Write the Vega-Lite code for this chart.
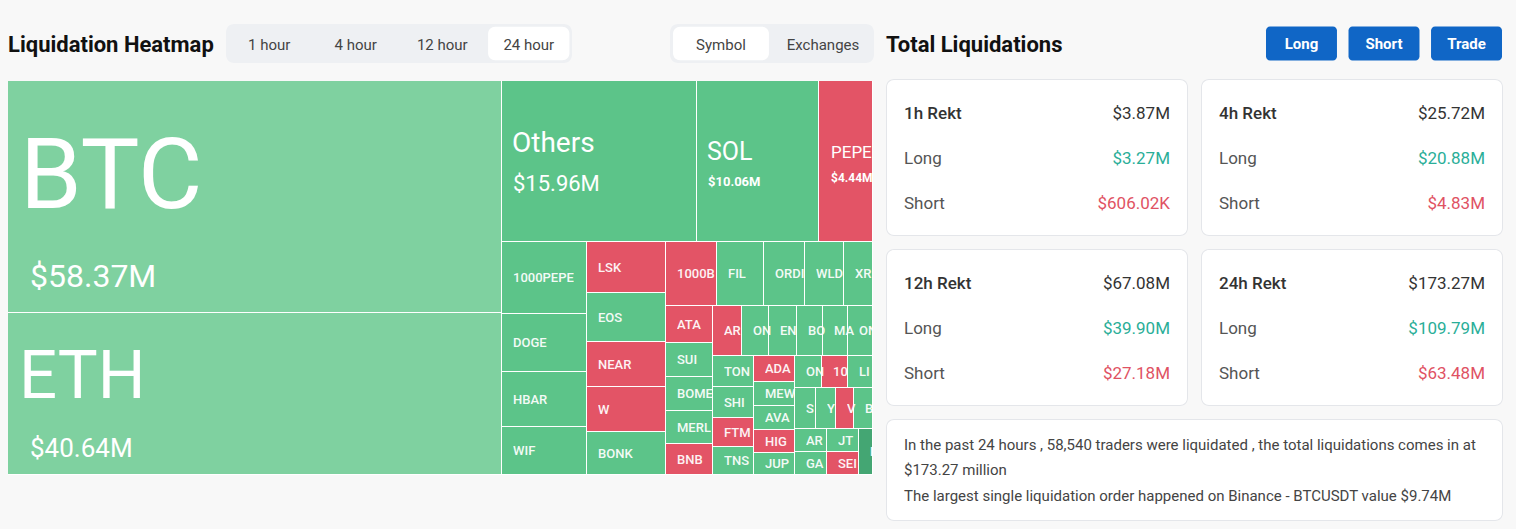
{
  "$schema": "https://vega.github.io/schema/vega-lite/v6.json",
  "background": "#f8f8f8",
  "padding": {"left": 8, "top": 24, "right": 13, "bottom": 8},
  "config": {"view": {"stroke": null}, "font": "Roboto", "text": {"font": "Roboto"}},
  "resolve": {"scale": {"color": "independent"}},
  "datasets": {
    "cards": [
      {"period": "1h", "metric": "Rekt", "label": "1h Rekt", "amount": "$3.87M"},
      {"period": "1h", "metric": "Long", "label": "Long", "amount": "$3.27M"},
      {"period": "1h", "metric": "Short", "label": "Short", "amount": "$606.02K"},
      {"period": "4h", "metric": "Rekt", "label": "4h Rekt", "amount": "$25.72M"},
      {"period": "4h", "metric": "Long", "label": "Long", "amount": "$20.88M"},
      {"period": "4h", "metric": "Short", "label": "Short", "amount": "$4.83M"},
      {"period": "12h", "metric": "Rekt", "label": "12h Rekt", "amount": "$67.08M"},
      {"period": "12h", "metric": "Long", "label": "Long", "amount": "$39.90M"},
      {"period": "12h", "metric": "Short", "label": "Short", "amount": "$27.18M"},
      {"period": "24h", "metric": "Rekt", "label": "24h Rekt", "amount": "$173.27M"},
      {"period": "24h", "metric": "Long", "label": "Long", "amount": "$109.79M"},
      {"period": "24h", "metric": "Short", "label": "Short", "amount": "$63.48M"}
    ]
  },
  "spacing": 12,
  "hconcat": [
    {
      "spacing": 18,
      "vconcat": [
        {
          "spacing": 98,
          "hconcat": [
            {
              "bounds": "flush",
              "spacing": 12,
              "hconcat": [
                {
                  "width": 206, "height": 39,
                  "view": {"fill": "#f8f8f8"},
                  "data": {"values": [{"title": "Liquidation Heatmap"}]},
                  "mark": {"type": "text", "fontSize": 22, "fontWeight": "bold", "color": "#111111", "align": "left", "baseline": "middle", "dy": 1.5},
                  "encoding": {
                    "x": {"datum": 0, "type": "quantitative", "axis": null, "scale": {"domain": [0, 1], "nice": false}},
                    "text": {"field": "title"}
                  }
                },
                {
                  "width": 346, "height": 39,
                  "view": {"fill": "#eef0f3", "cornerRadius": 8},
                  "data": {"values": [
                    {"range": "1 hour", "selected": false},
                    {"range": "4 hour", "selected": false},
                    {"range": "12 hour", "selected": false},
                    {"range": "24 hour", "selected": true}
                  ]},
                  "encoding": {"x": {"field": "range", "type": "nominal", "axis": null, "scale": {"type": "band", "domain": ["1 hour", "4 hour", "12 hour", "24 hour"], "paddingInner": 0.06, "paddingOuter": 0.03}}},
                  "layer": [
                    {
                      "transform": [{"filter": "datum.selected"}],
                      "mark": {"type": "rect", "fill": "#ffffff", "cornerRadius": 7},
                      "encoding": {"y": {"datum": "tabs", "type": "nominal", "axis": null, "scale": {"type": "band", "paddingInner": 0, "paddingOuter": 0.08}}}
                    },
                    {"mark": {"type": "text", "fontSize": 15, "color": "#444444", "baseline": "middle", "dy": 1}, "encoding": {"text": {"field": "range"}}}
                  ]
                }
              ]
            },
            {
              "width": 204, "height": 39,
              "view": {"fill": "#eef0f3", "cornerRadius": 8},
              "data": {"values": [
                {"group": "Symbol", "selected": true},
                {"group": "Exchanges", "selected": false}
              ]},
              "encoding": {"x": {"field": "group", "type": "nominal", "axis": null, "scale": {"type": "band", "domain": ["Symbol", "Exchanges"], "paddingInner": 0.06, "paddingOuter": 0.03}}},
              "layer": [
                {
                  "transform": [{"filter": "datum.selected"}],
                  "mark": {"type": "rect", "fill": "#ffffff", "cornerRadius": 7},
                  "encoding": {"y": {"datum": "tabs", "type": "nominal", "axis": null, "scale": {"type": "band", "paddingInner": 0, "paddingOuter": 0.08}}}
                },
                {"mark": {"type": "text", "fontSize": 15, "color": "#444444", "baseline": "middle", "dy": 1}, "encoding": {"text": {"field": "group"}}}
              ]
            }
          ]
        },
        {
          "width": 865, "height": 394,
          "view": {"fill": "#ffffff"},
          "data": {"values": [
            {"label": "BTC", "usd": 58370000, "bias": "mild long", "tier": "big", "x0": 0, "x1": 494, "y0": 0, "y1": 232},
            {"label": "ETH", "usd": 40640000, "bias": "mild long", "tier": "big", "x0": 0, "x1": 494, "y0": 232, "y1": 394},
            {"label": "Others", "usd": 15960000, "bias": "long", "tier": "big", "x0": 494, "x1": 689, "y0": 0, "y1": 161},
            {"label": "SOL", "usd": 10060000, "bias": "long", "tier": "big", "x0": 689, "x1": 811, "y0": 0, "y1": 161},
            {"label": "PEPE", "usd": 4440000, "bias": "short", "tier": "big", "x0": 811, "x1": 865, "y0": 0, "y1": 161},
            {"label": "1000PEPE", "usd": 3110000, "bias": "long", "tier": "small", "x0": 494, "x1": 579, "y0": 161, "y1": 233},
            {"label": "DOGE", "usd": 2510000, "bias": "long", "tier": "small", "x0": 494, "x1": 579, "y0": 233, "y1": 291},
            {"label": "HBAR", "usd": 2380000, "bias": "long", "tier": "small", "x0": 494, "x1": 579, "y0": 291, "y1": 346},
            {"label": "WIF", "usd": 2070000, "bias": "long", "tier": "small", "x0": 494, "x1": 579, "y0": 346, "y1": 394},
            {"label": "LSK", "usd": 2050000, "bias": "short", "tier": "small", "x0": 579, "x1": 658, "y0": 161, "y1": 212},
            {"label": "EOS", "usd": 1970000, "bias": "long", "tier": "small", "x0": 579, "x1": 658, "y0": 212, "y1": 261},
            {"label": "NEAR", "usd": 1810000, "bias": "short", "tier": "small", "x0": 579, "x1": 658, "y0": 261, "y1": 306},
            {"label": "W", "usd": 1810000, "bias": "short", "tier": "small", "x0": 579, "x1": 658, "y0": 306, "y1": 351},
            {"label": "BONK", "usd": 1730000, "bias": "long", "tier": "small", "x0": 579, "x1": 658, "y0": 351, "y1": 394},
            {"label": "1000B", "usd": 1660000, "bias": "short", "tier": "small", "x0": 658, "x1": 709, "y0": 161, "y1": 225},
            {"label": "FIL", "usd": 1530000, "bias": "long", "tier": "small", "x0": 709, "x1": 756, "y0": 161, "y1": 225},
            {"label": "ORDI", "usd": 1330000, "bias": "long", "tier": "small", "x0": 756, "x1": 797, "y0": 161, "y1": 225},
            {"label": "WLD", "usd": 1270000, "bias": "long", "tier": "small", "x0": 797, "x1": 836, "y0": 161, "y1": 225},
            {"label": "XR", "usd": 940000, "bias": "long", "tier": "small", "x0": 836, "x1": 865, "y0": 161, "y1": 225},
            {"label": "ATA", "usd": 880000, "bias": "short", "tier": "small", "x0": 658, "x1": 705, "y0": 225, "y1": 262},
            {"label": "SUI", "usd": 810000, "bias": "long", "tier": "small", "x0": 658, "x1": 705, "y0": 262, "y1": 296},
            {"label": "BOME", "usd": 810000, "bias": "long", "tier": "small", "x0": 658, "x1": 705, "y0": 296, "y1": 330},
            {"label": "MERL", "usd": 790000, "bias": "long", "tier": "small", "x0": 658, "x1": 705, "y0": 330, "y1": 363},
            {"label": "BNB", "usd": 740000, "bias": "short", "tier": "small", "x0": 658, "x1": 705, "y0": 363, "y1": 394},
            {"label": "AR", "usd": 740000, "bias": "short", "tier": "small", "x0": 705, "x1": 734, "y0": 225, "y1": 275},
            {"label": "ON", "usd": 690000, "bias": "long", "tier": "small", "x0": 734, "x1": 761, "y0": 225, "y1": 275},
            {"label": "EN", "usd": 710000, "bias": "long", "tier": "small", "x0": 761, "x1": 789, "y0": 225, "y1": 275},
            {"label": "BO", "usd": 660000, "bias": "long", "tier": "small", "x0": 789, "x1": 815, "y0": 225, "y1": 275},
            {"label": "MA", "usd": 640000, "bias": "long", "tier": "small", "x0": 815, "x1": 840, "y0": 225, "y1": 275},
            {"label": "ON", "usd": 640000, "bias": "long", "tier": "small", "x0": 840, "x1": 865, "y0": 225, "y1": 275},
            {"label": "TON", "usd": 650000, "bias": "long", "tier": "small", "x0": 705, "x1": 746, "y0": 275, "y1": 306},
            {"label": "SHI", "usd": 650000, "bias": "long", "tier": "small", "x0": 705, "x1": 746, "y0": 306, "y1": 337},
            {"label": "FTM", "usd": 600000, "bias": "short", "tier": "small", "x0": 705, "x1": 746, "y0": 337, "y1": 366},
            {"label": "TNS", "usd": 580000, "bias": "long", "tier": "small", "x0": 705, "x1": 746, "y0": 366, "y1": 394},
            {"label": "ADA", "usd": 540000, "bias": "short", "tier": "small", "x0": 746, "x1": 787, "y0": 275, "y1": 301},
            {"label": "MEW", "usd": 500000, "bias": "long", "tier": "small", "x0": 746, "x1": 787, "y0": 301, "y1": 325},
            {"label": "AVA", "usd": 500000, "bias": "long", "tier": "small", "x0": 746, "x1": 787, "y0": 325, "y1": 349},
            {"label": "HIG", "usd": 480000, "bias": "short", "tier": "small", "x0": 746, "x1": 787, "y0": 349, "y1": 372},
            {"label": "JUP", "usd": 460000, "bias": "long", "tier": "small", "x0": 746, "x1": 787, "y0": 372, "y1": 394},
            {"label": "ON", "usd": 440000, "bias": "long", "tier": "small", "x0": 787, "x1": 814, "y0": 275, "y1": 307},
            {"label": "10", "usd": 420000, "bias": "short", "tier": "small", "x0": 814, "x1": 840, "y0": 275, "y1": 307},
            {"label": "LI", "usd": 410000, "bias": "long", "tier": "small", "x0": 840, "x1": 865, "y0": 275, "y1": 307},
            {"label": "S", "usd": 440000, "bias": "long", "tier": "small", "x0": 787, "x1": 808, "y0": 307, "y1": 348},
            {"label": "Y", "usd": 420000, "bias": "long", "tier": "small", "x0": 808, "x1": 828, "y0": 307, "y1": 348},
            {"label": "V", "usd": 380000, "bias": "short", "tier": "small", "x0": 828, "x1": 846, "y0": 307, "y1": 348},
            {"label": "B", "usd": 400000, "bias": "long", "tier": "small", "x0": 846, "x1": 865, "y0": 307, "y1": 348},
            {"label": "AR", "usd": 370000, "bias": "long", "tier": "small", "x0": 787, "x1": 819, "y0": 348, "y1": 371},
            {"label": "GA", "usd": 370000, "bias": "long", "tier": "small", "x0": 787, "x1": 819, "y0": 371, "y1": 394},
            {"label": "JT", "usd": 370000, "bias": "long", "tier": "small", "x0": 819, "x1": 851, "y0": 348, "y1": 371},
            {"label": "SEI", "usd": 370000, "bias": "short", "tier": "small", "x0": 819, "x1": 851, "y0": 371, "y1": 394},
            {"label": "E", "usd": 330000, "bias": "strong long", "tier": "small", "x0": 851, "x1": 865, "y0": 348, "y1": 394}
          ]},
          "encoding": {
            "x": {"field": "x0", "type": "quantitative", "axis": null, "scale": {"domain": [0, 865], "nice": false, "zero": false}},
            "y": {"field": "y0", "type": "quantitative", "axis": null, "scale": {"domain": [0, 394], "nice": false, "zero": false, "reverse": true}}
          },
          "layer": [
            {
              "mark": {"type": "rect", "x2Offset": -1, "y2Offset": -1},
              "encoding": {
                "x2": {"field": "x1"},
                "y2": {"field": "y1"},
                "color": {"field": "bias", "type": "nominal", "legend": null, "scale": {"domain": ["mild long", "long", "short", "strong long"], "range": ["#7fd1a0", "#5cc489", "#e35466", "#44a673"]}}
              }
            },
            {
              "transform": [
                {"filter": {"field": "tier", "equal": "small"}},
                {"fold": ["y0", "y1"], "as": ["edge", "ypos"]},
                {"aggregate": [{"op": "mean", "field": "ypos", "as": "ymid"}], "groupby": ["label", "x0"]}
              ],
              "mark": {"type": "text", "align": "left", "baseline": "middle", "dx": 11, "fontSize": 13, "fontWeight": 500, "color": "#ffffff", "opacity": 0.93, "clip": true},
              "encoding": {
                "y": {"field": "ymid", "type": "quantitative", "scale": {"domain": [0, 394], "nice": false, "zero": false, "reverse": true}},
                "text": {"field": "label"}
              }
            },
            {"transform": [{"filter": {"field": "label", "equal": "BTC"}}], "mark": {"type": "text", "align": "left", "baseline": "middle", "fontSize": 99, "dx": 12, "dy": 97, "color": "#ffffff"}, "encoding": {"text": {"field": "label"}}},
            {"transform": [{"filter": {"field": "label", "equal": "BTC"}}], "mark": {"type": "text", "align": "left", "baseline": "middle", "fontSize": 32, "dx": 22, "dy": 196, "color": "#ffffff"}, "encoding": {"text": {"field": "usd", "type": "quantitative", "format": "$.4s"}}},
            {"transform": [{"filter": {"field": "label", "equal": "ETH"}}], "mark": {"type": "text", "align": "left", "baseline": "middle", "fontSize": 67, "dx": 11, "dy": 65, "color": "#ffffff"}, "encoding": {"text": {"field": "label"}}},
            {"transform": [{"filter": {"field": "label", "equal": "ETH"}}], "mark": {"type": "text", "align": "left", "baseline": "middle", "fontSize": 26, "dx": 22, "dy": 136, "color": "#ffffff"}, "encoding": {"text": {"field": "usd", "type": "quantitative", "format": "$.4s"}}},
            {"transform": [{"filter": {"field": "label", "equal": "Others"}}], "mark": {"type": "text", "align": "left", "baseline": "middle", "fontSize": 28, "dx": 10, "dy": 63, "color": "#ffffff"}, "encoding": {"text": {"field": "label"}}},
            {"transform": [{"filter": {"field": "label", "equal": "Others"}}], "mark": {"type": "text", "align": "left", "baseline": "middle", "fontSize": 22, "dx": 11, "dy": 103, "color": "#ffffff"}, "encoding": {"text": {"field": "usd", "type": "quantitative", "format": "$.4s"}}},
            {"transform": [{"filter": {"field": "label", "equal": "SOL"}}], "mark": {"type": "text", "align": "left", "baseline": "middle", "fontSize": 25, "dx": 10, "dy": 71, "color": "#ffffff"}, "encoding": {"text": {"field": "label"}}},
            {"transform": [{"filter": {"field": "label", "equal": "SOL"}}], "mark": {"type": "text", "align": "left", "baseline": "middle", "fontSize": 13, "fontWeight": "bold", "dx": 11, "dy": 101, "color": "#ffffff"}, "encoding": {"text": {"field": "usd", "type": "quantitative", "format": "$.4s"}}},
            {"transform": [{"filter": {"field": "label", "equal": "PEPE"}}], "mark": {"type": "text", "align": "left", "baseline": "middle", "fontSize": 17, "dx": 12, "dy": 72, "color": "#ffffff", "clip": true}, "encoding": {"text": {"field": "label"}}},
            {"transform": [{"filter": {"field": "label", "equal": "PEPE"}}], "mark": {"type": "text", "align": "left", "baseline": "middle", "fontSize": 12, "fontWeight": "bold", "dx": 12, "dy": 97, "color": "#ffffff", "clip": true}, "encoding": {"text": {"field": "usd", "type": "quantitative", "format": "$.3s"}}}
          ]
        }
      ]
    },
    {
      "spacing": 16,
      "vconcat": [
        {
          "bounds": "flush",
          "spacing": 204,
          "hconcat": [
            {
              "width": 176, "height": 39,
              "view": {"fill": "#f8f8f8"},
              "data": {"values": [{"title": "Total Liquidations"}]},
              "mark": {"type": "text", "fontSize": 22, "fontWeight": "bold", "color": "#111111", "align": "left", "baseline": "middle", "dy": 1.5},
              "encoding": {
                "x": {"datum": 0, "type": "quantitative", "axis": null, "scale": {"domain": [0, 1], "nice": false}},
                "text": {"field": "title"}
              }
            },
            {
              "width": 236, "height": 39,
              "view": {"fill": "#f8f8f8"},
              "data": {"values": [{"action": "Long"}, {"action": "Short"}, {"action": "Trade"}]},
              "encoding": {"x": {"field": "action", "type": "nominal", "axis": null, "scale": {"type": "band", "domain": ["Long", "Short", "Trade"], "paddingInner": 0.14, "paddingOuter": 0}}},
              "layer": [
                {
                  "mark": {"type": "rect", "fill": "#1066c6", "cornerRadius": 4},
                  "encoding": {"y": {"datum": "buttons", "type": "nominal", "axis": null, "scale": {"type": "band", "paddingInner": 0, "paddingOuter": 0.07}}}
                },
                {"mark": {"type": "text", "color": "#ffffff", "fontSize": 15, "fontWeight": "bold", "baseline": "middle"}, "encoding": {"text": {"field": "action"}}}
              ]
            }
          ]
        },
        {
          "spacing": 13,
          "vconcat": [
            {
              "spacing": 13,
              "hconcat": [
                {
                  "width": 302, "height": 157,
                  "view": {"fill": "#e4e6ea", "cornerRadius": 8},
                  "data": {"name": "cards"},
                  "resolve": {"scale": {"y": "independent"}},
                  "layer": [
                    {"transform": [{"filter": "datum.period == '1h' && datum.metric == 'Rekt'"}], "mark": {"type": "rect", "fill": "#ffffff", "cornerRadius": 7, "xOffset": 1, "x2Offset": -1, "yOffset": 1, "y2Offset": -1}, "encoding": {"x": {"datum": 0, "type": "quantitative", "axis": null, "scale": {"domain": [0, 1], "nice": false}}, "x2": {"datum": 1}, "y": {"datum": 0, "type": "quantitative", "axis": null, "scale": {"domain": [0, 1], "nice": false, "reverse": true}}, "y2": {"datum": 1}}},
                    {
                      "transform": [{"filter": {"field": "period", "equal": "1h"}}],
                      "encoding": {"y": {"field": "metric", "type": "nominal", "axis": null, "scale": {"type": "point", "domain": ["Rekt", "Long", "Short"], "padding": 0.744}}, "text": {"field": "label"}},
                      "layer": [
                        {"transform": [{"filter": {"field": "metric", "equal": "Rekt"}}], "mark": {"type": "text", "align": "left", "baseline": "middle", "dx": 18, "dy": 1.5, "fontSize": 17, "fontWeight": 500, "color": "#333333"}, "encoding": {"x": {"datum": 0, "type": "quantitative"}}},
                        {"transform": [{"filter": {"field": "metric", "oneOf": ["Long", "Short"]}}], "mark": {"type": "text", "align": "left", "baseline": "middle", "dx": 18, "dy": 1.5, "fontSize": 17, "color": "#555555"}, "encoding": {"x": {"datum": 0, "type": "quantitative"}}},
                        {"mark": {"type": "text", "align": "right", "baseline": "middle", "dx": -18, "dy": 1.5, "fontSize": 17}, "encoding": {"x": {"datum": 1, "type": "quantitative"}, "text": {"field": "amount"}, "color": {"field": "metric", "type": "nominal", "legend": null, "scale": {"domain": ["Rekt", "Long", "Short"], "range": ["#333333", "#2aae98", "#e05263"]}}}}
                      ]
                    }
                  ]
                },
                {
                  "width": 302, "height": 157,
                  "view": {"fill": "#e4e6ea", "cornerRadius": 8},
                  "data": {"name": "cards"},
                  "resolve": {"scale": {"y": "independent"}},
                  "layer": [
                    {"transform": [{"filter": "datum.period == '4h' && datum.metric == 'Rekt'"}], "mark": {"type": "rect", "fill": "#ffffff", "cornerRadius": 7, "xOffset": 1, "x2Offset": -1, "yOffset": 1, "y2Offset": -1}, "encoding": {"x": {"datum": 0, "type": "quantitative", "axis": null, "scale": {"domain": [0, 1], "nice": false}}, "x2": {"datum": 1}, "y": {"datum": 0, "type": "quantitative", "axis": null, "scale": {"domain": [0, 1], "nice": false, "reverse": true}}, "y2": {"datum": 1}}},
                    {
                      "transform": [{"filter": {"field": "period", "equal": "4h"}}],
                      "encoding": {"y": {"field": "metric", "type": "nominal", "axis": null, "scale": {"type": "point", "domain": ["Rekt", "Long", "Short"], "padding": 0.744}}, "text": {"field": "label"}},
                      "layer": [
                        {"transform": [{"filter": {"field": "metric", "equal": "Rekt"}}], "mark": {"type": "text", "align": "left", "baseline": "middle", "dx": 18, "dy": 1.5, "fontSize": 17, "fontWeight": 500, "color": "#333333"}, "encoding": {"x": {"datum": 0, "type": "quantitative"}}},
                        {"transform": [{"filter": {"field": "metric", "oneOf": ["Long", "Short"]}}], "mark": {"type": "text", "align": "left", "baseline": "middle", "dx": 18, "dy": 1.5, "fontSize": 17, "color": "#555555"}, "encoding": {"x": {"datum": 0, "type": "quantitative"}}},
                        {"mark": {"type": "text", "align": "right", "baseline": "middle", "dx": -18, "dy": 1.5, "fontSize": 17}, "encoding": {"x": {"datum": 1, "type": "quantitative"}, "text": {"field": "amount"}, "color": {"field": "metric", "type": "nominal", "legend": null, "scale": {"domain": ["Rekt", "Long", "Short"], "range": ["#333333", "#2aae98", "#e05263"]}}}}
                      ]
                    }
                  ]
                }
              ]
            },
            {
              "spacing": 13,
              "hconcat": [
                {
                  "width": 302, "height": 157,
                  "view": {"fill": "#e4e6ea", "cornerRadius": 8},
                  "data": {"name": "cards"},
                  "resolve": {"scale": {"y": "independent"}},
                  "layer": [
                    {"transform": [{"filter": "datum.period == '12h' && datum.metric == 'Rekt'"}], "mark": {"type": "rect", "fill": "#ffffff", "cornerRadius": 7, "xOffset": 1, "x2Offset": -1, "yOffset": 1, "y2Offset": -1}, "encoding": {"x": {"datum": 0, "type": "quantitative", "axis": null, "scale": {"domain": [0, 1], "nice": false}}, "x2": {"datum": 1}, "y": {"datum": 0, "type": "quantitative", "axis": null, "scale": {"domain": [0, 1], "nice": false, "reverse": true}}, "y2": {"datum": 1}}},
                    {
                      "transform": [{"filter": {"field": "period", "equal": "12h"}}],
                      "encoding": {"y": {"field": "metric", "type": "nominal", "axis": null, "scale": {"type": "point", "domain": ["Rekt", "Long", "Short"], "padding": 0.744}}, "text": {"field": "label"}},
                      "layer": [
                        {"transform": [{"filter": {"field": "metric", "equal": "Rekt"}}], "mark": {"type": "text", "align": "left", "baseline": "middle", "dx": 18, "dy": 1.5, "fontSize": 17, "fontWeight": 500, "color": "#333333"}, "encoding": {"x": {"datum": 0, "type": "quantitative"}}},
                        {"transform": [{"filter": {"field": "metric", "oneOf": ["Long", "Short"]}}], "mark": {"type": "text", "align": "left", "baseline": "middle", "dx": 18, "dy": 1.5, "fontSize": 17, "color": "#555555"}, "encoding": {"x": {"datum": 0, "type": "quantitative"}}},
                        {"mark": {"type": "text", "align": "right", "baseline": "middle", "dx": -18, "dy": 1.5, "fontSize": 17}, "encoding": {"x": {"datum": 1, "type": "quantitative"}, "text": {"field": "amount"}, "color": {"field": "metric", "type": "nominal", "legend": null, "scale": {"domain": ["Rekt", "Long", "Short"], "range": ["#333333", "#2aae98", "#e05263"]}}}}
                      ]
                    }
                  ]
                },
                {
                  "width": 302, "height": 157,
                  "view": {"fill": "#e4e6ea", "cornerRadius": 8},
                  "data": {"name": "cards"},
                  "resolve": {"scale": {"y": "independent"}},
                  "layer": [
                    {"transform": [{"filter": "datum.period == '24h' && datum.metric == 'Rekt'"}], "mark": {"type": "rect", "fill": "#ffffff", "cornerRadius": 7, "xOffset": 1, "x2Offset": -1, "yOffset": 1, "y2Offset": -1}, "encoding": {"x": {"datum": 0, "type": "quantitative", "axis": null, "scale": {"domain": [0, 1], "nice": false}}, "x2": {"datum": 1}, "y": {"datum": 0, "type": "quantitative", "axis": null, "scale": {"domain": [0, 1], "nice": false, "reverse": true}}, "y2": {"datum": 1}}},
                    {
                      "transform": [{"filter": {"field": "period", "equal": "24h"}}],
                      "encoding": {"y": {"field": "metric", "type": "nominal", "axis": null, "scale": {"type": "point", "domain": ["Rekt", "Long", "Short"], "padding": 0.744}}, "text": {"field": "label"}},
                      "layer": [
                        {"transform": [{"filter": {"field": "metric", "equal": "Rekt"}}], "mark": {"type": "text", "align": "left", "baseline": "middle", "dx": 18, "dy": 1.5, "fontSize": 17, "fontWeight": 500, "color": "#333333"}, "encoding": {"x": {"datum": 0, "type": "quantitative"}}},
                        {"transform": [{"filter": {"field": "metric", "oneOf": ["Long", "Short"]}}], "mark": {"type": "text", "align": "left", "baseline": "middle", "dx": 18, "dy": 1.5, "fontSize": 17, "color": "#555555"}, "encoding": {"x": {"datum": 0, "type": "quantitative"}}},
                        {"mark": {"type": "text", "align": "right", "baseline": "middle", "dx": -18, "dy": 1.5, "fontSize": 17}, "encoding": {"x": {"datum": 1, "type": "quantitative"}, "text": {"field": "amount"}, "color": {"field": "metric", "type": "nominal", "legend": null, "scale": {"domain": ["Rekt", "Long", "Short"], "range": ["#333333", "#2aae98", "#e05263"]}}}}
                      ]
                    }
                  ]
                }
              ]
            },
            {
              "width": 617, "height": 102,
              "view": {"fill": "#e4e6ea", "cornerRadius": 8},
              "data": {"values": [
                {"line": 1, "text": "In the past 24 hours , 58,540 traders were liquidated , the total liquidations comes in at"},
                {"line": 2, "text": "$173.27 million"},
                {"line": 3, "text": "The largest single liquidation order happened on Binance - BTCUSDT value $9.74M"}
              ]},
              "resolve": {"scale": {"y": "independent"}},
              "layer": [
                {"transform": [{"filter": "datum.line == 1"}], "mark": {"type": "rect", "fill": "#ffffff", "cornerRadius": 7, "xOffset": 1, "x2Offset": -1, "yOffset": 1, "y2Offset": -1}, "encoding": {"x": {"datum": 0, "type": "quantitative", "axis": null, "scale": {"domain": [0, 1], "nice": false}}, "x2": {"datum": 1}, "y": {"datum": 0, "type": "quantitative", "axis": null, "scale": {"domain": [0, 1], "nice": false, "reverse": true}}, "y2": {"datum": 1}}},
                {
                  "mark": {"type": "text", "align": "left", "baseline": "middle", "dx": 18, "fontSize": 15, "color": "#444444"},
                  "encoding": {
                    "x": {"datum": 0, "type": "quantitative"},
                    "y": {"field": "line", "type": "ordinal", "axis": null, "scale": {"type": "point", "padding": 1.267}},
                    "text": {"field": "text"}
                  }
                }
              ]
            }
          ]
        }
      ]
    }
  ]
}
